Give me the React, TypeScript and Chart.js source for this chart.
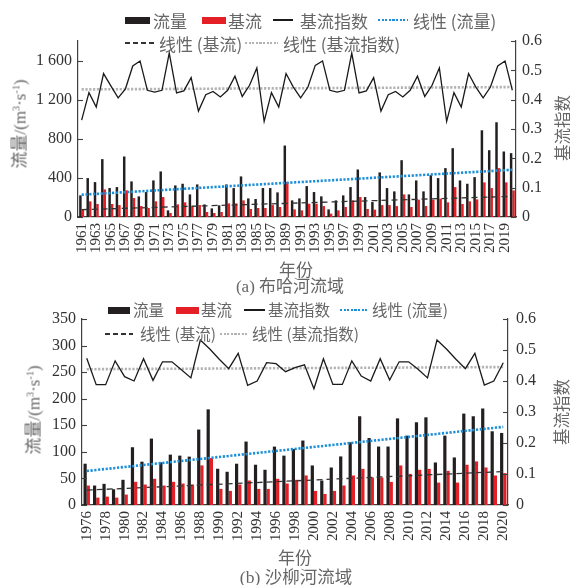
import React, { useEffect, useRef } from 'react';
import { Chart, registerables } from 'chart.js';

Chart.register(...registerables);

// ---------- Data: (a) 布哈河流域 ----------
const yearsA = [
  1961, 1962, 1963, 1964, 1965, 1966, 1967, 1968, 1969, 1970,
  1971, 1972, 1973, 1974, 1975, 1976, 1977, 1978, 1979, 1980,
  1981, 1982, 1983, 1984, 1985, 1986, 1987, 1988, 1989, 1990,
  1991, 1992, 1993, 1994, 1995, 1996, 1997, 1998, 1999, 2000,
  2001, 2002, 2003, 2004, 2005, 2006, 2007, 2008, 2009, 2010,
  2011, 2012, 2013, 2014, 2015, 2016, 2017, 2018, 2019, 2020,
];
const flowA = [
  221, 398, 357, 592, 296, 306, 619, 364, 211, 255,
  374, 466, 68, 323, 340, 231, 333, 129, 88, 119,
  333, 296, 415, 190, 184, 296, 296, 252, 731, 170,
  190, 316, 255, 211, 78, 170, 221, 306, 486, 204,
  153, 456, 296, 262, 581, 231, 374, 262, 428, 398,
  500, 704, 374, 340, 408, 887, 683, 969, 670, 653,
];
const baseA = [
  75, 160, 133, 282, 133, 122, 272, 194, 112, 92,
  160, 204, 41, 129, 150, 109, 122, 51, 41, 51,
  139, 139, 170, 82, 92, 92, 122, 102, 357, 78,
  68, 136, 136, 112, 34, 68, 102, 170, 204, 82,
  75, 122, 122, 112, 231, 102, 177, 112, 177, 187,
  150, 306, 133, 160, 180, 354, 296, 500, 354, 272,
];
const bfiA = [
  0.33, 0.424, 0.375, 0.489, 0.447, 0.406, 0.437, 0.515, 0.532, 0.432,
  0.426, 0.432, 0.559, 0.423, 0.43, 0.475, 0.361, 0.417, 0.428, 0.409,
  0.432, 0.48, 0.411, 0.449, 0.508, 0.326, 0.424, 0.375, 0.489, 0.443,
  0.406, 0.443, 0.517, 0.532, 0.432, 0.426, 0.432, 0.559, 0.423, 0.43,
  0.475, 0.361, 0.417, 0.428, 0.409, 0.432, 0.48, 0.411, 0.449, 0.508,
  0.326, 0.424, 0.375, 0.489, 0.443, 0.406, 0.443, 0.515, 0.532, 0.432,
];
// trend line end values (first year, last year)
const trendFlowA = [228, 483];
const trendBaseA = [75, 211];
const trendBfiA = [0.435, 0.443];

// ---------- Data: (b) 沙柳河流域 ----------
const yearsB = [
  1976, 1977, 1978, 1979, 1980, 1981, 1982, 1983, 1984, 1985,
  1986, 1987, 1988, 1989, 1990, 1991, 1992, 1993, 1994, 1995,
  1996, 1997, 1998, 1999, 2000, 2001, 2002, 2003, 2004, 2005,
  2006, 2007, 2008, 2009, 2010, 2011, 2012, 2013, 2014, 2015,
  2016, 2017, 2018, 2019, 2020,
];
const flowB = [
  77.7, 36.6, 39.8, 29.7, 47.4, 108.7, 81.5, 125, 80.2, 94.8,
  92.9, 91, 142, 180, 68.2, 62.5, 77.7, 119.4, 75.8, 66.3,
  109.9, 92.9, 105.5, 121.3, 74.4, 46, 70.6, 91.4, 118, 167,
  126, 110, 110, 163, 130.5, 155.7, 165, 80, 130.5, 89.5,
  172, 167, 181.6, 138.7, 135.6,
];
const baseB = [
  36.6, 13.9, 15.8, 13.9, 19.6, 43.6, 38.5, 49.3, 36.6, 43.6,
  40.4, 38.5, 74.5, 88.4, 30.3, 26.5, 38.5, 46.1, 30.3, 30.3,
  49.3, 40.4, 47.4, 55.6, 26.5, 20.8, 26.5, 36.6, 55.5, 68,
  51.7, 51.7, 43.5, 74.4, 58.6, 66.2, 68, 42.2, 64.3, 42.2,
  75.7, 82, 70.6, 55.5, 60,
];
const bfiB = [
  0.4735, 0.388, 0.388, 0.465, 0.414, 0.4, 0.472, 0.402, 0.462, 0.462,
  0.436, 0.41, 0.532, 0.503, 0.47, 0.44, 0.489, 0.386, 0.4, 0.459,
  0.456, 0.43, 0.443, 0.452, 0.375, 0.472, 0.389, 0.389, 0.465, 0.416,
  0.4, 0.472, 0.403, 0.462, 0.462, 0.438, 0.41, 0.532, 0.503, 0.47,
  0.44, 0.489, 0.387, 0.4, 0.459,
];
const trendFlowB = [64, 147];
const trendBaseB = [28, 63];
const trendBfiB = [0.438, 0.445];

// ---------- Styles ----------
const SERIF = '"Liberation Serif", "Times New Roman", serif';
const SANS = '"Noto Sans CJK SC", "Noto Sans", sans-serif';
const TXT = '#666666';
const NUM = '#333333';
const AXIS = '#404040';
const BLACK = '#231f20';
const RED = '#e41f26';
const BLUE = '#1b8fd9';
const GRAY = '#b3b3b3';

function trendLine(n: number, ends: number[]) {
  const arr: (number | null)[] = new Array(n).fill(null);
  arr[0] = ends[0];
  arr[n - 1] = ends[1];
  return arr;
}

function fmt(v: number) {
  if (v >= 1000) return `${Math.floor(v / 1000)} ${String(v % 1000).padStart(3, '0')}`;
  return String(v);
}

const innerTicks = {
  id: 'innerTicks',
  afterDraw(chart: any) {
    const ctx = chart.ctx;
    ctx.save();
    ctx.strokeStyle = AXIS;
    ctx.lineWidth = 1.1;
    ['y', 'y1'].forEach((id) => {
      const s = chart.scales[id];
      if (!s) return;
      const left = id === 'y';
      const x0 = left ? chart.chartArea.left : chart.chartArea.right;
      s.ticks.forEach((t: any) => {
        const y = Math.round(s.getPixelForValue(t.value)) + 0.5;
        ctx.beginPath();
        ctx.moveTo(x0, y);
        ctx.lineTo(left ? x0 + 5 : x0 - 5, y);
        ctx.stroke();
      });
    });
    ctx.restore();
  },
};

type PanelProps = {
  top: number;
  height: number;
  years: number[];
  flow: number[];
  base: number[];
  bfi: number[];
  trendFlow: number[];
  trendBase: number[];
  trendBfi: number[];
  yMax: number;
  yStep: number;
  yLabelStep: number;
  plotLeft: number;
  plotRight: number;
  plotTop: number;
  plotBottom: number;
  rightPad: number;
};

function ChartPanel(p: PanelProps) {
  const ref = useRef<HTMLCanvasElement>(null);
  useEffect(() => {
    const n = p.years.length;
    const common = { pointRadius: 0, pointHoverRadius: 0, tension: 0, order: 0, fill: false };
    const chart = new Chart(ref.current as HTMLCanvasElement, {
      type: 'bar',
      plugins: [innerTicks],
      data: {
        labels: p.years.map(String),
        datasets: [
          { ...common, type: 'line', label: '基流指数', data: p.bfi, yAxisID: 'y1', borderColor: '#1a1a1a', borderWidth: 1.3 },
          { ...common, type: 'line', label: '线性 (流量)', data: trendLine(n, p.trendFlow), yAxisID: 'y', borderColor: BLUE, borderWidth: 2.6, borderDash: [2.2, 1.6], spanGaps: true },
          { ...common, type: 'line', label: '线性 (基流)', data: trendLine(n, p.trendBase), yAxisID: 'y', borderColor: '#333', borderWidth: 1.3, borderDash: [6, 4], spanGaps: true },
          { ...common, type: 'line', label: '线性 (基流指数)', data: trendLine(n, p.trendBfi), yAxisID: 'y1', borderColor: GRAY, borderWidth: 2.6, borderDash: [2.2, 1.6], spanGaps: true },
          { type: 'bar', label: '流量', data: p.flow, backgroundColor: BLACK, yAxisID: 'y', order: 1, categoryPercentage: 0.68, barPercentage: 1 },
          { type: 'bar', label: '基流', data: p.base, backgroundColor: RED, yAxisID: 'y', order: 1, categoryPercentage: 0.68, barPercentage: 1 },
        ] as any,
      },
      options: {
        responsive: false,
        animation: false,
        events: [],
        layout: { padding: { top: p.plotTop, left: 0, right: 0, bottom: 0 } },
        plugins: { legend: { display: false }, tooltip: { enabled: false } },
        scales: {
          x: {
            grid: { display: false, drawTicks: false },
            border: { display: true, color: AXIS, width: 1.2 },
            ticks: {
              autoSkip: false,
              maxRotation: 90,
              minRotation: 90,
              padding: 6,
              color: NUM,
              font: { family: SERIF, size: 15 },
              callback: (_v: any, i: number) => (i % 2 === 0 ? String(p.years[i]) : ''),
            },
            afterFit: (s: any) => { s.height = p.height - p.plotBottom; },
          },
          y: {
            position: 'left',
            min: 0,
            max: p.yMax,
            grid: { display: false, drawTicks: false },
            border: { display: true, color: AXIS, width: 1.2 },
            ticks: {
              stepSize: p.yStep,
              padding: 6,
              color: NUM,
              font: { family: SERIF, size: 16 },
              callback: (v: any) => (Math.round(v) % p.yLabelStep === 0 ? fmt(Math.round(v)) : ''),
            },
            afterFit: (s: any) => { s.width = p.plotLeft; },
          },
          y1: {
            position: 'right',
            min: 0,
            max: 0.6,
            grid: { display: false, drawTicks: false },
            border: { display: true, color: AXIS, width: 1.2 },
            ticks: {
              stepSize: 0.1,
              padding: p.rightPad,
              color: NUM,
              font: { family: SERIF, size: 16 },
              callback: (v: any) => (Math.abs(v) < 1e-9 ? '0' : Number(v).toFixed(1)),
            },
            afterFit: (s: any) => { s.width = 570 - p.plotRight; },
          },
        },
      } as any,
    });
    return () => chart.destroy();
  }, []);
  return (
    <canvas
      ref={ref}
      width={570}
      height={p.height}
      style={{ position: 'absolute', left: 0, top: p.top, display: 'block' }}
    />
  );
}

const abs = (x: number, y: number): React.CSSProperties => ({
  position: 'absolute',
  left: x,
  top: y,
  transform: 'translateY(-50%)',
  whiteSpace: 'nowrap',
  lineHeight: 1,
});

function LegText({ x, y, size, children }: { x: number; y: number; size: number; children: React.ReactNode }) {
  return <div style={{ ...abs(x, y), fontFamily: SANS, fontSize: size, color: TXT }}>{children}</div>;
}

function Rect({ x, y, w, h, bg }: { x: number; y: number; w: number; h: number; bg: string }) {
  return <div style={{ position: 'absolute', left: x, top: y - h / 2, width: w, height: h, background: bg }} />;
}

function Legend({ y1, y2, size, it }: { y1: number; y2: number; size: number; it: number[] }) {
  const dotBlue = `repeating-linear-gradient(90deg, ${BLUE} 0 2.2px, transparent 2.2px 3.6px)`;
  const dotGray = `repeating-linear-gradient(90deg, ${GRAY} 0 2.2px, transparent 2.2px 3.6px)`;
  const dash = `repeating-linear-gradient(90deg, #333 0 5px, transparent 5px 8px)`;
  return (
    <>
      <Rect x={it[0]} y={y1} w={it[1]} h={7} bg={BLACK} />
      <LegText x={it[2]} y={y1} size={size}>流量</LegText>
      <Rect x={it[3]} y={y1} w={it[4]} h={7} bg={RED} />
      <LegText x={it[5]} y={y1} size={size}>基流</LegText>
      <Rect x={it[6]} y={y1} w={it[7]} h={1.4} bg="#1a1a1a" />
      <LegText x={it[8]} y={y1} size={size}>基流指数</LegText>
      <Rect x={it[9]} y={y1} w={it[10]} h={2.4} bg={dotBlue} />
      <LegText x={it[11]} y={y1} size={size}>线性 (流量)</LegText>
      <Rect x={it[12]} y={y2} w={it[13]} h={1.4} bg={dash} />
      <LegText x={it[14]} y={y2} size={size}>线性 (基流)</LegText>
      <Rect x={it[15]} y={y2} w={it[16]} h={2.4} bg={dotGray} />
      <LegText x={it[17]} y={y2} size={size}>线性 (基流指数)</LegText>
    </>
  );
}

function LeftTitle({ x, y }: { x: number; y: number }) {
  const sup: React.CSSProperties = { fontSize: '0.6em', position: 'relative', top: '-0.55em' };
  return (
    <div style={{ position: 'absolute', left: x, top: y, transform: 'translate(-50%,-50%) rotate(-90deg)', whiteSpace: 'nowrap', lineHeight: 1, fontSize: 17, color: TXT }}>
      <span style={{ fontFamily: SANS }}>流量</span>
      <span style={{ fontFamily: SERIF }}>/(m<span style={sup}>3</span>·s<span style={sup}>-1</span>)</span>
    </div>
  );
}

function RightTitle({ x, y }: { x: number; y: number }) {
  return (
    <div style={{ position: 'absolute', left: x, top: y, transform: 'translate(-50%,-50%) rotate(-90deg)', whiteSpace: 'nowrap', lineHeight: 1, fontSize: 16.5, fontFamily: SANS, color: TXT }}>
      基流指数
    </div>
  );
}

function Centered({ x, y, size, children }: { x: number; y: number; size: number; children: React.ReactNode }) {
  return (
    <div style={{ position: 'absolute', left: x, top: y, transform: 'translate(-50%,-50%)', whiteSpace: 'nowrap', lineHeight: 1, fontSize: size, fontFamily: SANS, color: TXT }}>
      {children}
    </div>
  );
}

export default function App() {
  return (
    <div style={{ position: 'absolute', left: 0, top: 0, width: 570, height: 585, overflow: 'hidden', background: '#fff' }}>
      <ChartPanel
        top={0}
        height={295}
        years={yearsA}
        flow={flowA}
        base={baseA}
        bfi={bfiA}
        trendFlow={trendFlowA}
        trendBase={trendBaseA}
        trendBfi={trendBfiA}
        yMax={1800}
        yStep={200}
        yLabelStep={400}
        plotLeft={78}
        plotRight={516}
        plotTop={41}
        plotBottom={217}
        rightPad={6}
      />
      <ChartPanel
        top={295}
        height={290}
        years={yearsB}
        flow={flowB}
        base={baseB}
        bfi={bfiB}
        trendFlow={trendFlowB}
        trendBase={trendBaseB}
        trendBfi={trendBfiB}
        yMax={350}
        yStep={50}
        yLabelStep={50}
        plotLeft={82}
        plotRight={508}
        plotTop={24}
        plotBottom={210}
        rightPad={8}
      />
      <Legend y1={20} y2={43} size={17} it={[125, 25, 153, 202, 24, 228, 273, 20, 300, 378, 30, 413, 125, 32, 159, 245, 33, 283]} />
      <Legend y1={310} y2={334} size={15.5} it={[108, 22, 133, 176, 23, 201, 244, 21, 268, 340, 27, 372, 105, 28, 140, 220, 28, 252]} />
      <LeftTitle x={19} y={124} />
      <LeftTitle x={33} y={410} />
      <RightTitle x={562} y={128} />
      <RightTitle x={561} y={412} />
      <Centered x={296} y={268} size={17}>年份</Centered>
      <Centered x={290} y={285} size={17}>
        <span style={{ fontFamily: SERIF }}>(a) </span>布哈河流域
      </Centered>
      <Centered x={295} y={556} size={17}>年份</Centered>
      <Centered x={296} y={577} size={17.5}>
        <span style={{ fontFamily: SERIF }}>(b) </span>沙柳河流域
      </Centered>
    </div>
  );
}
